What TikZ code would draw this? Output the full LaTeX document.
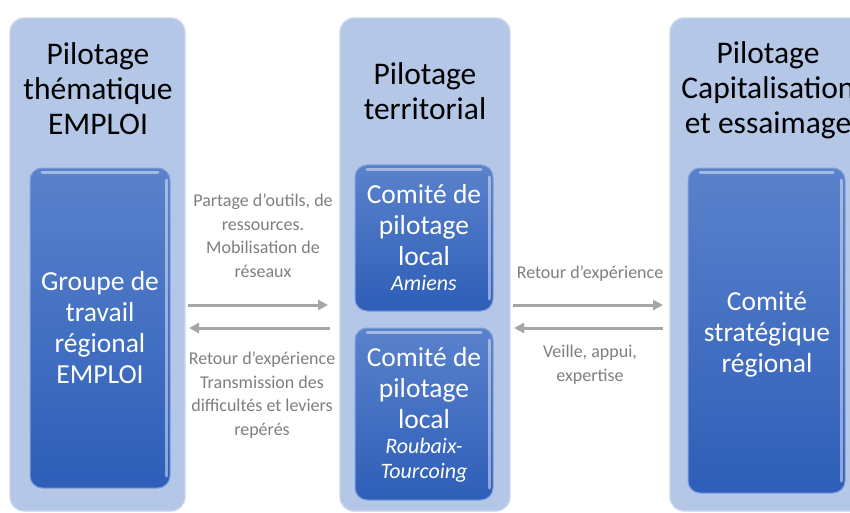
\documentclass[tikz,border=0pt]{standalone}
\usepackage{fontspec}
\setmainfont{Carlito}
\usetikzlibrary{arrows.meta}
\definecolor{colbg}{HTML}{B4C7E7}
\definecolor{coledge}{HTML}{C9D7EF}
\definecolor{boxtop}{HTML}{5A82CC}
\definecolor{boxbot}{HTML}{2E5EB8}
\definecolor{boxedge}{HTML}{7FA0DC}
\definecolor{arrowgray}{HTML}{A6A6A6}
\definecolor{labelgray}{HTML}{7F7F7F}
\begin{document}
\begin{tikzpicture}[x=1pt,y=-1pt,
  column/.style={fill=colbg, draw=coledge, line width=1.2pt, rounded corners=14pt},
  innerbox/.style={rounded corners=12pt, top color=boxtop, bottom color=boxbot, draw=boxedge, line width=1pt},
  gloss/.style={draw=white, opacity=0.45, line width=3pt, line cap=round},
  title/.style={align=center, anchor=base, inner sep=0pt, font=\fontsize{31.5}{35}\selectfont, text=black},
  boxtext/.style={align=center, anchor=base, inner sep=0pt, font=\fontsize{27.5}{31}\selectfont, text=white},
  lbl/.style={align=center, anchor=base, inner sep=0pt, font=\fontsize{18}{23.4}\selectfont, text=labelgray},
  flow/.style={draw=arrowgray, line width=3pt, -{Triangle[length=10pt,width=10pt]}}
]
\useasboundingbox (0,0) rectangle (850,513);
\clip (0,0) rectangle (850,513);
\fill[white] (0,0) rectangle (850,513);

% columns
\path[column] (10,18) rectangle (185,511);
\path[column] (340,18) rectangle (510,511);
\path[column] (670,18) rectangle (890,511);

% inner boxes
\path[innerbox] (30,168) rectangle (170,488);
\path[innerbox] (355,165) rectangle (493,311);
\path[innerbox] (355,328) rectangle (493,500);
\path[innerbox] (688,168) rectangle (845,493);
% glossy highlights
\draw[gloss] (42,172) -- (158,172);
\draw[gloss] (367,169) -- (481,169);
\draw[gloss] (367,332) -- (481,332);
\draw[gloss] (700,172) -- (833,172);
\draw[gloss] (166,180) -- (166,476);
\draw[gloss] (489,177) -- (489,299);
\draw[gloss] (489,340) -- (489,488);
\draw[gloss] (841,180) -- (841,481);

% titles (anchor = baseline of last line)
\node[title] (t1) at (98,135) {Pilotage\\thématique\\EMPLOI};
\node[title] (t2) at (425,120) {Pilotage\\territorial};
\node[title] (t3) at (768,134) {Pilotage\\Capitalisation\\et essaimage};

% box texts
\node[boxtext] (b1) at (100,383) {Groupe de\\travail\\régional\\EMPLOI};
\node[boxtext] (b2) at (424,290) {Comité de\\pilotage\\local\\[-6pt]{\fontsize{22}{25}\selectfont\itshape Amiens}};
\node[boxtext] (b3) at (424,478) {Comité de\\pilotage\\local\\[-6pt]{\fontsize{22}{25}\selectfont\itshape Roubaix-}\\[-6pt]{\fontsize{22}{25}\selectfont\itshape Tourcoing}};
\node[boxtext] (b4) at (767,372) {Comité\\stratégique\\régional};

% labels
\node[lbl] (l1) at (263,277) {Partage d’outils, de\\ressources.\\Mobilisation de\\réseaux};
\node[lbl] (l2) at (262,435) {Retour d’expérience\\Transmission des\\difficultés et leviers\\repérés};
\node[lbl] (l3) at (590,278) {Retour d’expérience};
\node[lbl] (l4) at (590,381) {Veille, appui,\\expertise};

% arrows
\coordinate (a1s) at (188,305);
\coordinate (a1e) at (328,305);
\coordinate (a2s) at (330,328);
\coordinate (a2e) at (189,328);
\coordinate (a3s) at (513,305);
\coordinate (a3e) at (663,305);
\coordinate (a4s) at (663,328);
\coordinate (a4e) at (514,328);
\draw[flow] (a1s) -- (a1e);
\draw[flow] (a2s) -- (a2e);
\draw[flow] (a3s) -- (a3e);
\draw[flow] (a4s) -- (a4e);
\end{tikzpicture}
\end{document}
